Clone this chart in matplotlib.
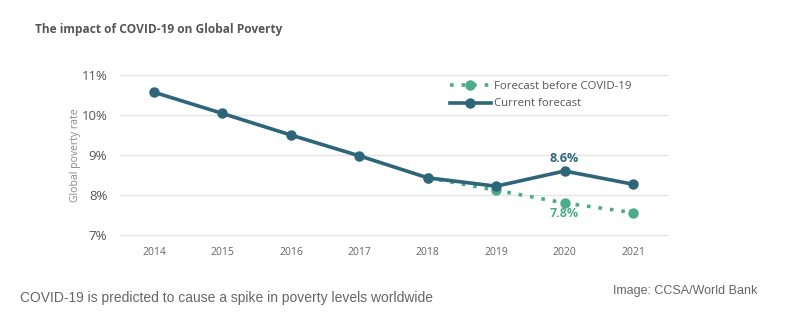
import matplotlib.pyplot as plt

years = [2014, 2015, 2016, 2017, 2018, 2019, 2020, 2021]
current = [10.57, 10.04, 9.5, 8.98, 8.43, 8.22, 8.6, 8.27]
before_years = [2018, 2019, 2020, 2021]
before = [8.43, 8.12, 7.8, 7.56]
yticks = [7, 8, 9, 10, 11]

dark = '#2d6579'
green = '#4cab8a'

plt.rcParams['font.family'] = ['Open Sans', 'DejaVu Sans']

fig = plt.figure(figsize=(7.99, 3.25), dpi=100)
ax = fig.add_axes([0.150, 0.277, 0.685, 0.492])

ax.plot(before_years, before, color=green, linestyle=(0, (1, 2.2)), linewidth=2.6,
        marker='o', markersize=6.5, label='Forecast before COVID-19', zorder=3)
ax.plot(years, current, color=dark, linewidth=2.6, marker='o', markersize=6.5,
        label='Current forecast', zorder=4)

ax.set_xlim(2013.5, 2021.5)
ax.set_ylim(7, 11)
ax.set_yticks(yticks)
ax.set_yticklabels([f'{v}%' for v in yticks], fontsize=9.5, color='#555555')
ax.set_xticks(years)
ax.set_xticklabels([str(y) for y in years], fontsize=7.5, color='#666666')
ax.tick_params(length=0)
ax.tick_params(axis='y', pad=9)
ax.tick_params(axis='x', pad=9)
for s in ax.spines.values():
    s.set_visible(False)
for v in yticks:
    ax.axhline(v, color='#e4e4e4', linewidth=1, zorder=1, clip_on=False)
ax.set_ylabel('Global poverty rate', fontsize=7.5, color='#888888', labelpad=0)

ax.annotate(f'{current[6]}%', (years[6], current[6]), xytext=(0, 4),
            textcoords='offset points', ha='center', va='bottom',
            fontsize=9, fontweight='bold', color=dark)
ax.annotate(f'{before[2]}%', (before_years[2], before[2]), xytext=(0, -3),
            textcoords='offset points', ha='center', va='top',
            fontsize=9, fontweight='bold', color=green)

leg = ax.legend(loc='upper left', bbox_to_anchor=(0.594, 0.99), frameon=False,
                fontsize=8.2, handlelength=3.6, handletextpad=0.3,
                labelspacing=0.55, borderaxespad=0)
for t in leg.get_texts():
    t.set_color('#555555')

fig.text(35 / 799, 1 - 29 / 325, 'The impact of COVID-19 on Global Poverty',
         fontsize=8.6, fontweight='bold', color='#555555', va='center')
fig.text(20 / 799, 1 - 298 / 325,
         'COVID-19 is predicted to cause a spike in poverty levels worldwide',
         fontsize=10, color='#666666', va='center', family='Liberation Sans')
fig.text(757 / 799, 1 - 291 / 325, 'Image: CCSA/World Bank',
         fontsize=9, color='#666666', va='center', ha='right',
         family='Liberation Sans')

fig.savefig('out.png', dpi=100, facecolor='white')
